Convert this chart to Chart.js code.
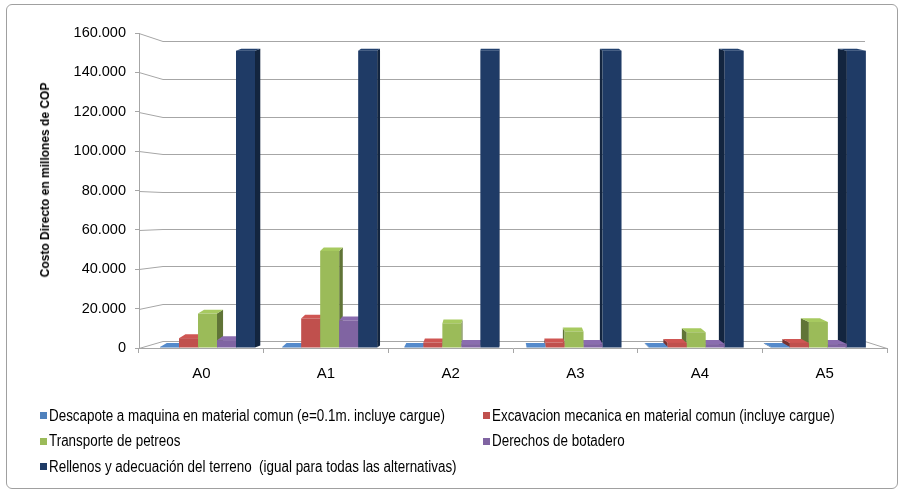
<!DOCTYPE html>
<html>
<head>
<meta charset="utf-8">
<script src="https://cdn.jsdelivr.net/npm/chart.js@4.4.1/dist/chart.umd.min.js"></script>
<style>
  body { margin: 0; background: #fff; }
  #wrap { position: relative; width: 905px; height: 494px; }
  #frame { position: absolute; left: 6px; top: 4px; width: 890px; height: 483px; border: 1px solid #a0a0a0; border-radius: 6px; pointer-events: none; }
  #ytitle { position: absolute; left: 45px; top: 180px; transform: translate(-50%, -50%) rotate(-90deg); white-space: nowrap;
            font: bold 12px 'Liberation Sans', Arial, sans-serif; color: #000; }
  #legend { position: absolute; left: 40px; top: 406px; width: 840px; display: grid; grid-template-columns: 443px 390px; row-gap: 6px;
            font: 16px 'Liberation Sans', Arial, sans-serif; color: #000; }
  #legend div { display: flex; align-items: center; height: 19.5px; white-space: pre; }
  #legend span.box { width: 7px; height: 7px; margin-right: 2px; display: inline-block; flex-shrink: 0; }
  #legend span.txt { display: inline-block; transform-origin: 0 50%; }
</style>
</head>
<body>
<div id="wrap">
  <canvas id="chart" width="905" height="494"></canvas>
  <div id="ytitle">Costo Directo en millones de COP</div>
  <div id="legend"></div>
  <div id="frame"></div>
</div>
<script>
// values (millones de COP)
const categories = ['A0', 'A1', 'A2', 'A3', 'A4', 'A5'];
const descapote  = [300, 300, 300, 300, 300, 300];
const excavacion = [5000, 15000, 2800, 2800, 2600, 2600];
const transporte = [17500, 49300, 12500, 8400, 8000, 13200];
const botadero   = [4000, 14000, 2000, 2000, 2000, 2000];
const rellenos   = [151000, 151000, 151000, 151000, 151000, 151000];

const seriesLabels = [
    'Descapote a maquina en material comun (e=0.1m. incluye cargue)',
    'Excavacion mecanica en material comun (incluye cargue)',
    'Transporte de petreos',
    'Derechos de botadero',
    'Rellenos y adecuación del terreno  (igual para todas las alternativas)'
];
const seriesColors = ['#4F81BD', '#C0504D', '#9BBB59', '#8064A2', '#1F3B66'];
const yTicks = [0, 20000, 40000, 60000, 80000, 100000, 120000, 140000, 160000];

const sans = "'Liberation Sans', Arial, sans-serif";
const gridColor = '#a6a6a6';
const vanishX = 510;

function shade(hex, f) {
    const n = parseInt(hex.slice(1), 16);
    const c = [(n >> 16) & 255, (n >> 8) & 255, n & 255].map(v => Math.max(0, Math.min(255, Math.round(v * f))));
    return `rgb(${c[0]},${c[1]},${c[2]})`;
}

// back wall: front scale 33..348 maps to 41..341
function backY(area, fy) {
    const top = area.top + 8, bottom = area.bottom - 7;
    return top + (fy - area.top) * (bottom - top) / (area.bottom - area.top);
}

const walls3d = {
    id: 'walls3d',
    beforeDatasetsDraw(chart) {
        const { ctx, chartArea: a, scales: { y } } = chart;
        ctx.save();
        ctx.strokeStyle = gridColor;
        ctx.lineWidth = 1;
        yTicks.forEach(v => {
            const fy = Math.round(y.getPixelForValue(v)) + 0.5;
            const by = Math.round(backY(a, fy)) + 0.5;
            ctx.beginPath();
            ctx.moveTo(a.left, fy);
            ctx.lineTo(a.left + 24, by);
            ctx.lineTo(a.right - 22, by);
            ctx.stroke();
        });
        // right edge of the floor
        const fb = Math.round(a.bottom) + 0.5;
        ctx.beginPath();
        ctx.moveTo(a.right, fb);
        ctx.lineTo(a.right - 22, Math.round(backY(a, fb)) + 0.5);
        ctx.stroke();
        ctx.restore();
    },
    beforeDatasetDraw() {
        return false; // bars are drawn in 3D below
    },
    afterDatasetsDraw(chart) {
        const { ctx, scales: { x } } = chart;
        const boxes = [];
        chart.data.datasets.forEach((ds, di) => {
            chart.getDatasetMeta(di).data.forEach((el, i) => {
                const catX = x.getPixelForValue(i);
                const shift = (vanishX - catX) * 0.02;
                const x0 = el.x - el.width / 2 + shift;
                const x1 = el.x + el.width / 2 + shift;
                const top = Math.min(el.y, el.base - 0.6);
                const off = vanishX - (x0 + x1) / 2;
                boxes.push({ x0, x1, top, base: el.base, color: ds.backgroundColor, cat: i,
                    dx: off * (off > 0 ? 0.02 : 0.026),
                    dy: -(2 + 2 * (top - 40) / 308) });
            });
        });
        boxes.sort((p, q) => p.cat - q.cat || (p.dx > 0 ? p.x0 - q.x0 : q.x0 - p.x0));
        ctx.save();
        boxes.forEach(b => {
            const { x0, x1, top, base, dx, dy } = b;
            // side face
            const sx = dx > 0 ? x1 : x0;
            ctx.fillStyle = shade(b.color, 0.62);
            ctx.beginPath();
            ctx.moveTo(sx, top);
            ctx.lineTo(sx + dx, top + dy);
            ctx.lineTo(sx + dx, base + dy);
            ctx.lineTo(sx, base);
            ctx.closePath();
            ctx.fill();
            // top face
            ctx.fillStyle = shade(b.color, 1.08);
            ctx.beginPath();
            ctx.moveTo(x0, top);
            ctx.lineTo(x0 + dx, top + dy);
            ctx.lineTo(x1 + dx, top + dy);
            ctx.lineTo(x1, top);
            ctx.closePath();
            ctx.fill();
            // front face
            ctx.fillStyle = b.color;
            ctx.fillRect(x0, top, x1 - x0, base - top);
        });
        ctx.restore();
    }
};

const seriesData = [descapote, excavacion, transporte, botadero, rellenos];

new Chart(document.getElementById('chart'), {
    type: 'bar',
    data: {
        labels: categories,
        datasets: seriesData.map((d, i) => ({
            label: seriesLabels[i],
            data: d,
            backgroundColor: seriesColors[i],
            categoryPercentage: 0.762,
            barPercentage: 1.0
        }))
    },
    options: {
        responsive: false,
        devicePixelRatio: 1,
        animation: false,
        layout: { padding: { left: 0, top: 33, right: 18, bottom: 0 } },
        plugins: { legend: { display: false }, tooltip: { enabled: false } },
        scales: {
            x: {
                grid: { offset: true, drawOnChartArea: false, tickLength: 5, color: gridColor },
                border: { color: gridColor },
                ticks: { color: '#000', padding: 12, font: { family: sans, size: 15 } },
                afterFit(scale) { scale.height = 494 - 348; }
            },
            y: {
                min: 0, max: 160000,
                afterBuildTicks(scale) { scale.ticks = yTicks.map(v => ({ value: v })); },
                grid: { drawOnChartArea: false, tickLength: 4, color: gridColor },
                border: { color: gridColor },
                ticks: {
                    color: '#000', padding: 9, font: { family: sans, size: 14.5 },
                    callback: v => String(v).replace(/\B(?=(\d{3})+(?!\d))/g, '.')
                },
                afterFit(scale) { scale.width = 139; }
            }
        }
    },
    plugins: [walls3d]
});

// legend, two columns as in the original; text squeezed to the narrow face of the original
const legend = document.getElementById('legend');
const texts = [];
seriesLabels.forEach((label, i) => {
    const item = document.createElement('div');
    const box = document.createElement('span');
    box.className = 'box';
    box.style.background = seriesColors[i];
    const txt = document.createElement('span');
    txt.className = 'txt';
    txt.textContent = label;
    item.appendChild(box);
    item.appendChild(txt);
    legend.appendChild(item);
    texts.push(txt);
});
const squeeze = 396 / texts[0].getBoundingClientRect().width;
texts.forEach(t => { t.style.transform = `scaleX(${squeeze})`; });
</script>
</body>
</html>
